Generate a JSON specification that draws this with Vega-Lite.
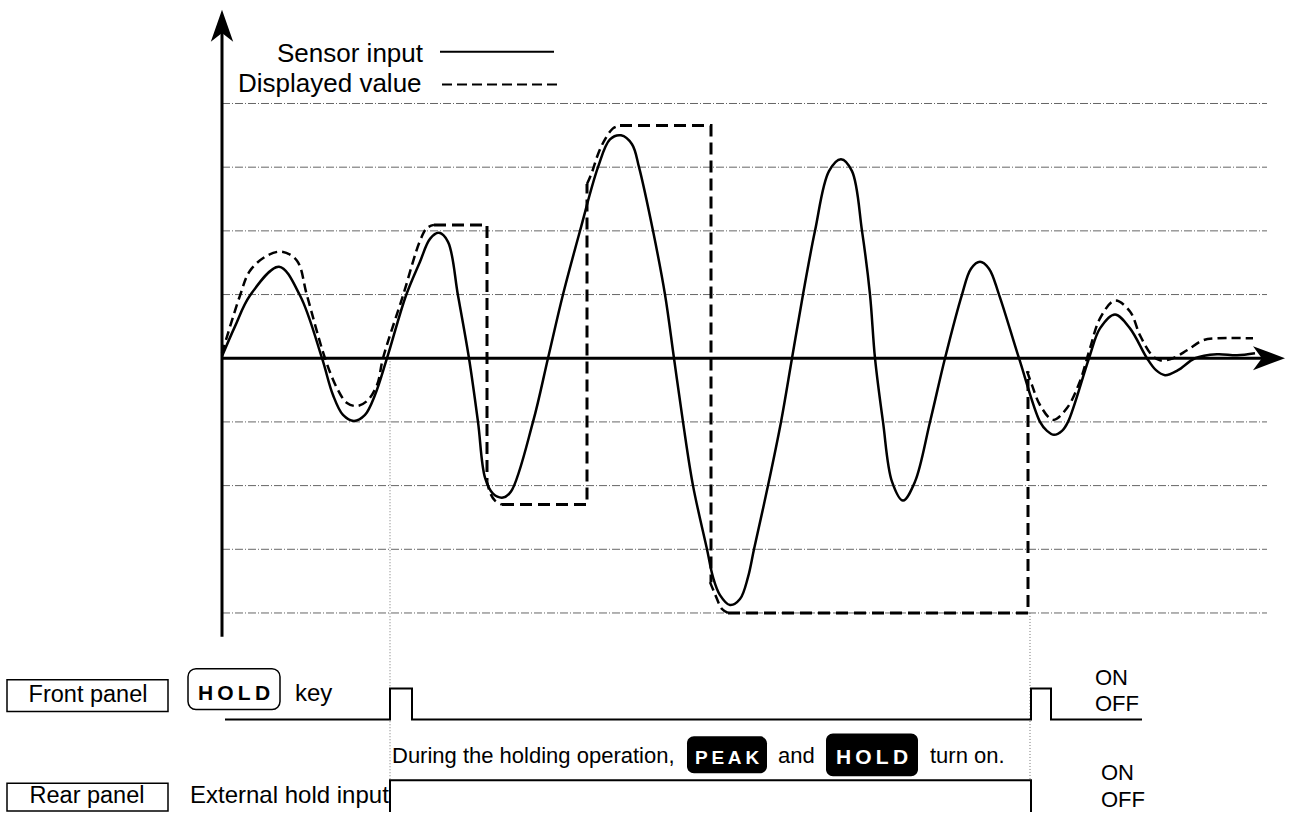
{
  "$schema": "https://vega.github.io/schema/vega-lite/v6.json",
  "width": 1293,
  "height": 816,
  "autosize": {"type": "fit", "contains": "padding"},
  "padding": 0,
  "background": "white",
  "config": {"view": {"stroke": null}},
  "encoding": {
    "x": {"field": "t", "type": "quantitative", "scale": {"domain": [-222, 1071], "nice": false, "zero": false}, "axis": null},
    "y": {"field": "v", "type": "quantitative", "scale": {"domain": [-456, 360], "nice": false, "zero": false}, "axis": null}
  },
  "layer": [
    {
      "data": {"values": [
        {"t": 0, "t2": 1045, "v": 256}, {"t": 0, "t2": 1045, "v": 192}, {"t": 0, "t2": 1045, "v": 128}, {"t": 0, "t2": 1045, "v": 64},
        {"t": 0, "t2": 1045, "v": -64}, {"t": 0, "t2": 1045, "v": -128}, {"t": 0, "t2": 1045, "v": -192}, {"t": 0, "t2": 1045, "v": -256}
      ]},
      "mark": {"type": "rule", "color": "#666666", "strokeWidth": 1, "strokeDash": [8, 2, 1, 2]},
      "encoding": {"x2": {"field": "t2"}}
    },
    {
      "data": {"values": [
        {"t": 168, "v": 0, "v2": -424},
        {"t": 808, "v": -256, "v2": -424}
      ]},
      "mark": {"type": "rule", "color": "#777777", "strokeWidth": 1, "strokeDash": [1, 2]},
      "encoding": {"y2": {"field": "v2"}}
    },
    {
      "data": {"values": [
        {"t": 0, "t2": 0, "v": -280, "v2": 330},
        {"t": 0, "t2": 1040, "v": 0, "v2": 0}
      ]},
      "mark": {"type": "rule", "color": "black", "strokeWidth": 3},
      "encoding": {"x2": {"field": "t2"}, "y2": {"field": "v2"}}
    },
    {
      "data": {"values": [{"t": 0, "v": 334}]},
      "mark": {"type": "point", "filled": true, "color": "black", "opacity": 1, "size": 1024, "strokeWidth": 0, "shape": "M0,-1 L0.7,1 L0,0.45 L-0.7,1 Z"}
    },
    {
      "data": {"values": [{"t": 1047, "v": 0}]},
      "mark": {"type": "point", "filled": true, "color": "black", "opacity": 1, "size": 1024, "strokeWidth": 0, "shape": "M1,0 L-1,0.75 L-0.45,0 L-1,-0.75 Z"}
    },
    {
      "data": {"values": [
        {"t": 0, "v": 2}, {"t": 13, "v": 32}, {"t": 28, "v": 63}, {"t": 57, "v": 92}, {"t": 78, "v": 63},
        {"t": 100, "v": 0}, {"t": 111, "v": -37}, {"t": 121, "v": -57}, {"t": 132, "v": -63}, {"t": 143, "v": -57}, {"t": 153, "v": -37}, {"t": 165, "v": 0},
        {"t": 184, "v": 63}, {"t": 198, "v": 97}, {"t": 208, "v": 120}, {"t": 217, "v": 126}, {"t": 226, "v": 117}, {"t": 236, "v": 63},
        {"t": 247, "v": 0}, {"t": 256, "v": -64}, {"t": 263, "v": -120}, {"t": 271, "v": -136}, {"t": 281, "v": -140}, {"t": 289, "v": -134},
        {"t": 311, "v": -64}, {"t": 326, "v": 0}, {"t": 341, "v": 64}, {"t": 358, "v": 128}, {"t": 376, "v": 192}, {"t": 388, "v": 220}, {"t": 399, "v": 224},
        {"t": 410, "v": 215}, {"t": 417, "v": 192}, {"t": 431, "v": 128}, {"t": 443, "v": 64}, {"t": 452, "v": 0}, {"t": 461, "v": -64}, {"t": 471, "v": -128},
        {"t": 485, "v": -192}, {"t": 491, "v": -220}, {"t": 498, "v": -238}, {"t": 508, "v": -248}, {"t": 518, "v": -242}, {"t": 526, "v": -220}, {"t": 532, "v": -192},
        {"t": 546, "v": -128}, {"t": 559, "v": -64}, {"t": 570, "v": 0}, {"t": 581, "v": 64}, {"t": 593, "v": 128}, {"t": 607, "v": 188},
        {"t": 619, "v": 200}, {"t": 630, "v": 188}, {"t": 640, "v": 128}, {"t": 648, "v": 64}, {"t": 653, "v": 0}, {"t": 661, "v": -64},
        {"t": 670, "v": -124}, {"t": 681, "v": -143}, {"t": 693, "v": -124}, {"t": 708, "v": -64}, {"t": 723, "v": 0},
        {"t": 740, "v": 64}, {"t": 749, "v": 90}, {"t": 758, "v": 97}, {"t": 767, "v": 90}, {"t": 777, "v": 64}, {"t": 797, "v": 0},
        {"t": 818, "v": -64}, {"t": 825, "v": -73}, {"t": 832, "v": -77}, {"t": 840, "v": -73}, {"t": 846, "v": -64}, {"t": 867, "v": 0},
        {"t": 878, "v": 30}, {"t": 893, "v": 44}, {"t": 908, "v": 30}, {"t": 925, "v": 0}, {"t": 934, "v": -12}, {"t": 943, "v": -17}, {"t": 956, "v": -12},
        {"t": 973, "v": 0}, {"t": 995, "v": 4}, {"t": 1015, "v": 3}, {"t": 1033, "v": 5}
      ]},
      "mark": {"type": "line", "color": "black", "strokeWidth": 2.5, "interpolate": "catmull-rom"}
    },
    {
      "data": {"values": [
        {"seg": 1, "t": 0, "v": 5}, {"seg": 1, "t": 18, "v": 63}, {"seg": 1, "t": 28, "v": 88}, {"seg": 1, "t": 45, "v": 103}, {"seg": 1, "t": 60, "v": 107},
        {"seg": 1, "t": 75, "v": 98}, {"seg": 1, "t": 85, "v": 63}, {"seg": 1, "t": 103, "v": 0}, {"seg": 1, "t": 115, "v": -30}, {"seg": 1, "t": 125, "v": -45},
        {"seg": 1, "t": 135, "v": -48}, {"seg": 1, "t": 145, "v": -43}, {"seg": 1, "t": 155, "v": -27}, {"seg": 1, "t": 161, "v": 0}, {"seg": 1, "t": 181, "v": 63},
        {"seg": 1, "t": 198, "v": 118}, {"seg": 1, "t": 205, "v": 131}, {"seg": 1, "t": 212, "v": 134},
        {"seg": 2, "t": 265, "v": -123}, {"seg": 2, "t": 268, "v": -135}, {"seg": 2, "t": 273, "v": -143}, {"seg": 2, "t": 280, "v": -147},
        {"seg": 3, "t": 365, "v": 175}, {"seg": 3, "t": 370, "v": 187}, {"seg": 3, "t": 376, "v": 205}, {"seg": 3, "t": 383, "v": 220}, {"seg": 3, "t": 391, "v": 231}, {"seg": 3, "t": 398, "v": 234},
        {"seg": 4, "t": 488, "v": -225}, {"seg": 4, "t": 493, "v": -237}, {"seg": 4, "t": 500, "v": -252}, {"seg": 4, "t": 506, "v": -256},
        {"seg": 5, "t": 805, "v": -13}, {"seg": 5, "t": 810, "v": -27}, {"seg": 5, "t": 818, "v": -47}, {"seg": 5, "t": 831, "v": -62}, {"seg": 5, "t": 845, "v": -50},
        {"seg": 5, "t": 858, "v": -23}, {"seg": 5, "t": 868, "v": 10}, {"seg": 5, "t": 878, "v": 40}, {"seg": 5, "t": 893, "v": 58}, {"seg": 5, "t": 908, "v": 47},
        {"seg": 5, "t": 918, "v": 23}, {"seg": 5, "t": 930, "v": 3}, {"seg": 5, "t": 938, "v": -2}, {"seg": 5, "t": 951, "v": 0}, {"seg": 5, "t": 965, "v": 8},
        {"seg": 5, "t": 981, "v": 18}, {"seg": 5, "t": 995, "v": 20}, {"seg": 5, "t": 1031, "v": 20}
      ]},
      "mark": {"type": "line", "color": "black", "strokeWidth": 2.5, "strokeDash": [9, 5], "interpolate": "catmull-rom"},
      "encoding": {"detail": {"field": "seg"}}
    },
    {
      "data": {"values": [
        {"seg": "A", "i": 1, "t": 212, "v": 134}, {"seg": "A", "i": 2, "t": 265, "v": 134}, {"seg": "A", "i": 3, "t": 265, "v": -123},
        {"seg": "B", "i": 1, "t": 280, "v": -147}, {"seg": "B", "i": 2, "t": 365, "v": -147}, {"seg": "B", "i": 3, "t": 365, "v": 175},
        {"seg": "C", "i": 1, "t": 398, "v": 234}, {"seg": "C", "i": 2, "t": 489, "v": 234}, {"seg": "C", "i": 3, "t": 489, "v": -225},
        {"seg": "D", "i": 1, "t": 506, "v": -256}, {"seg": "D", "i": 2, "t": 806, "v": -256}, {"seg": "D", "i": 3, "t": 806, "v": -13}
      ]},
      "mark": {"type": "line", "color": "black", "strokeWidth": 3, "strokeDash": [12, 6]},
      "encoding": {"detail": {"field": "seg"}, "order": {"field": "i", "type": "quantitative"}}
    },
    {
      "data": {"values": [{"t": 218, "t2": 332, "v": 308}]},
      "mark": {"type": "rule", "color": "black", "strokeWidth": 2},
      "encoding": {"x2": {"field": "t2"}}
    },
    {
      "data": {"values": [{"t": 220, "t2": 335, "v": 275}]},
      "mark": {"type": "rule", "color": "black", "strokeWidth": 2, "strokeDash": [10, 5]},
      "encoding": {"x2": {"field": "t2"}}
    },
    {
      "data": {"values": [
        {"sig": "front", "i": 1, "t": 3, "v": -363}, {"sig": "front", "i": 2, "t": 168, "v": -363}, {"sig": "front", "i": 3, "t": 168, "v": -332},
        {"sig": "front", "i": 4, "t": 190, "v": -332}, {"sig": "front", "i": 5, "t": 190, "v": -363}, {"sig": "front", "i": 6, "t": 809, "v": -363},
        {"sig": "front", "i": 7, "t": 809, "v": -332}, {"sig": "front", "i": 8, "t": 829, "v": -332}, {"sig": "front", "i": 9, "t": 829, "v": -363},
        {"sig": "front", "i": 10, "t": 920, "v": -363},
        {"sig": "rear", "i": 1, "t": 168, "v": -456}, {"sig": "rear", "i": 2, "t": 168, "v": -424}, {"sig": "rear", "i": 3, "t": 809, "v": -424},
        {"sig": "rear", "i": 4, "t": 809, "v": -456}
      ]},
      "mark": {"type": "line", "color": "black", "strokeWidth": 2},
      "encoding": {"detail": {"field": "sig"}, "order": {"field": "i", "type": "quantitative"}}
    },
    {
      "data": {"values": [
        {"t": -215, "t2": -54, "v": -323, "v2": -355},
        {"t": -215, "t2": -54, "v": -427, "v2": -455}
      ]},
      "mark": {"type": "rect", "fill": "white", "stroke": "black", "strokeWidth": 1.5},
      "encoding": {"x2": {"field": "t2"}, "y2": {"field": "v2"}}
    },
    {
      "data": {"values": [{"t": -34, "t2": 58, "v": -312, "v2": -353}]},
      "mark": {"type": "rect", "fill": "white", "stroke": "black", "strokeWidth": 1.5, "cornerRadius": 8},
      "encoding": {"x2": {"field": "t2"}, "y2": {"field": "v2"}}
    },
    {
      "data": {"values": [
        {"t": 465, "t2": 545, "v": -380, "v2": -417},
        {"t": 604, "t2": 696, "v": -377, "v2": -420}
      ]},
      "mark": {"type": "rect", "fill": "black", "cornerRadius": 7},
      "encoding": {"x2": {"field": "t2"}, "y2": {"field": "v2"}}
    },
    {
      "data": {"values": [
        {"label": "Sensor input", "t": 55, "v": 298, "fs": 26},
        {"label": "Displayed value", "t": 16, "v": 268, "fs": 26},
        {"label": "key", "t": 73, "v": -344, "fs": 24},
        {"label": "External hold input", "t": -32, "v": -447, "fs": 24},
        {"label": "During the holding operation,", "t": 170, "v": -407, "fs": 22},
        {"label": "and", "t": 556, "v": -407, "fs": 22},
        {"label": "turn on.", "t": 708, "v": -407, "fs": 22},
        {"label": "ON", "t": 873, "v": -328, "fs": 22},
        {"label": "OFF", "t": 873, "v": -355, "fs": 22},
        {"label": "ON", "t": 879, "v": -424, "fs": 22},
        {"label": "OFF", "t": 879, "v": -451, "fs": 22}
      ]},
      "mark": {"type": "text", "align": "left", "baseline": "alphabetic", "font": "Liberation Sans", "color": "black"},
      "encoding": {"text": {"field": "label"}, "size": {"field": "fs", "type": "quantitative", "scale": null}}
    },
    {
      "data": {"values": [
        {"label": "Front panel", "t": -134, "v": -345},
        {"label": "Rear panel", "t": -135, "v": -447}
      ]},
      "mark": {"type": "text", "align": "center", "baseline": "alphabetic", "font": "Liberation Sans", "fontSize": 23.5, "color": "black"},
      "encoding": {"text": {"field": "label"}}
    },
    {
      "data": {"values": [{"label": "H\u2009O\u2009L\u2009D", "t": 12, "v": -343}]},
      "mark": {"type": "text", "align": "center", "baseline": "alphabetic", "font": "Liberation Sans", "fontWeight": "bold", "fontSize": 21, "color": "black"},
      "encoding": {"text": {"field": "label"}}
    },
    {
      "data": {"values": [
        {"label": "P\u2009E\u2009A\u2009K", "t": 505, "v": -408, "fs": 19},
        {"label": "H\u2009O\u2009L\u2009D", "t": 650, "v": -408, "fs": 21}
      ]},
      "mark": {"type": "text", "align": "center", "baseline": "alphabetic", "font": "Liberation Sans", "fontWeight": "bold", "color": "white"},
      "encoding": {"text": {"field": "label"}, "size": {"field": "fs", "type": "quantitative", "scale": null}}
    }
  ]
}
